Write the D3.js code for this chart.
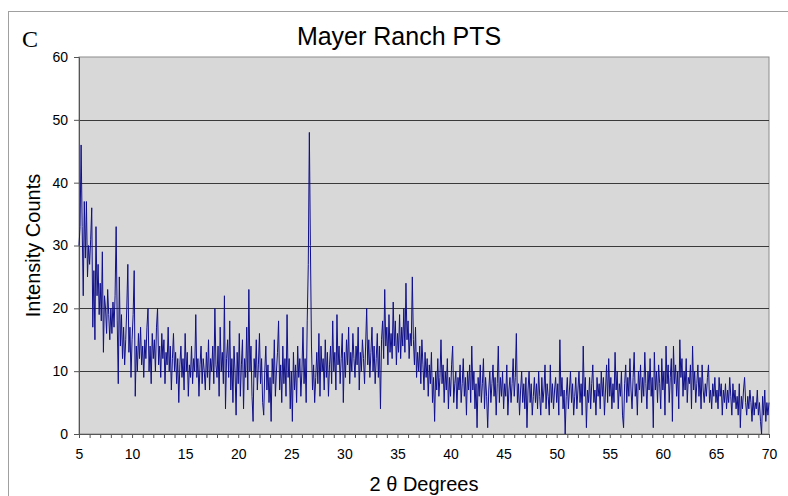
<!DOCTYPE html>
<html>
<head>
<meta charset="utf-8">
<script src="https://cdn.jsdelivr.net/npm/d3@7"></script>
<style>
  body { margin: 0; background: #fff; }
  svg text { font-family: Arial, "Liberation Sans", sans-serif; }
</style>
</head>
<body>
<svg id="chart" width="788" height="496"></svg>
<script>
// intensity counts, step 0.1 deg, one row per degree
const seg05 = [30,33,46,33,22,37,28,37,25,30, 27,31,36,17,26,15,33,22,27,19, 24,18,29,13,22,20,16,23,19,15, 20,16,21,17,22,33,18,8,25,14, 19,12,17,11,15,20,27,13,17,9];
const seg10 = [15,19,26,6,14,10,16,12,17,11, 14,9,15,12,17,20,10,14,8,16, 12,15,10,17,20,11,14,9,16,12, 15,8,13,11,17,10,14,7,12,16, 10,13,8,12,5,11,14,9,12,7];
const seg15 = [16,10,13,6,11,9,14,8,12,10, 19,9,12,6,11,14,8,12,10,7, 13,9,15,7,12,10,14,8,20,11, 9,14,6,17,10,13,8,22,4,12, 15,9,18,7,12,5,14,10,3,13];
const seg20 = [8,16,6,11,15,4,12,9,17,7, 23,10,14,6,2,12,9,15,7,11, 16,8,12,5,3,10,14,7,11,5, 9,2,12,8,15,6,10,13,18,7, 11,5,14,8,12,6,19,9,12,4];
const seg25 = [10,2,13,7,11,5,14,9,12,6, 10,17,8,12,5,18,27,48,30,14, 7,11,5,9,13,8,16,6,14,10, 12,7,15,9,13,6,11,14,8,18, 10,13,7,19,11,14,8,12,16,5];
const seg30 = [13,9,15,11,17,8,13,10,16,12, 9,14,11,17,7,13,10,15,12,8, 14,20,11,15,9,13,17,10,14,8, 12,16,9,14,4,15,18,12,23,14, 17,11,19,13,16,12,21,14,18,11];
const seg35 = [16,13,19,12,17,14,20,13,24,15, 18,12,16,14,25,15,11,17,9,13, 10,14,8,15,11,7,13,9,12,6, 11,8,13,5,9,2,10,7,12,6, 9,15,8,11,5,10,7,12,4,9];
const seg40 = [6,11,14,5,8,10,4,9,7,11, 5,8,12,6,9,3,10,7,11,5, 14,7,10,4,8,1,9,6,11,5, 8,12,4,9,6,1,7,10,5,8, 11,6,9,3,8,14,5,9,6,10];
const seg45 = [4,8,6,11,3,7,9,5,8,12, 6,9,16,5,8,3,7,10,5,8, 4,9,1,7,10,5,8,3,6,9, 5,8,4,10,6,3,9,5,7,11, 4,8,6,3,11,5,8,4,7,9];
const seg50 = [5,8,3,15,6,9,4,7,0,6, 9,4,7,10,5,8,3,6,9,4, 7,10,5,8,3,14,6,9,1,7, 5,9,4,8,11,5,7,3,9,6, 8,4,10,6,9,3,7,11,5,12];
const seg55 = [6,9,4,8,5,13,7,10,4,8, 6,10,3,1,8,11,5,9,6,12, 7,4,9,13,6,8,3,10,7,11, 5,9,6,13,8,4,10,7,12,6, 9,1,13,7,10,5,11,8,4,12];
const seg60 = [7,10,3,14,8,11,5,9,12,2, 14,8,11,6,10,4,15,9,12,6, 10,7,12,5,9,8,11,4,14,7, 10,5,8,11,6,9,4,11,7,5, 8,6,9,11,5,7,4,8,6,9];
const seg65 = [5,7,4,9,6,8,3,7,5,8, 4,7,5,9,6,3,8,5,7,4, 6,3,8,1,6,4,7,9,5,3, 6,4,7,5,2,6,3,5,4,7, 3,5,2,0,6,3,7,2,5,3, 5];

const startAngle = 5, stepAngle = 0.1;
const yTicks = [0, 10, 20, 30, 40, 50, 60];
const xTicks = d3.range(5, 71, 1);
const xLabels = [5, 10, 15, 20, 25, 30, 35, 40, 45, 50, 55, 60, 65, 70];

const counts = [].concat(seg05, seg10, seg15, seg20, seg25, seg30, seg35, seg40, seg45, seg50, seg55, seg60, seg65);
const data = counts.map((c, i) => ({ angle: startAngle + i * stepAngle, count: c }));

const svg = d3.select('#chart');
const margin = { left: 79, top: 57, right: 19, bottom: 62 },
  width = 788, height = 496;

// outer frame
svg.append('rect')
  .attr('x', 8.5).attr('y', 11.5)
  .attr('width', 800).attr('height', 500)
  .attr('fill', '#fff').attr('stroke', '#a0a0a0');

const x = d3.scaleLinear().domain([5, 70]).range([margin.left, width - margin.right]);
const y = d3.scaleLinear().domain([0, 60]).range([height - margin.bottom, margin.top]);

// plot area
svg.append('rect')
  .attr('x', x(5)).attr('y', y(60))
  .attr('width', x(70) - x(5)).attr('height', y(0) - y(60))
  .attr('fill', '#d8d8d8').attr('stroke', '#8c8c8c');

// gridlines
svg.append('g')
  .selectAll('line')
  .data(yTicks.filter(d => d > 0 && d < 60))
  .enter().append('line')
    .attr('x1', x(5)).attr('x2', x(70))
    .attr('y1', d => Math.round(y(d)) + 0.5).attr('y2', d => Math.round(y(d)) + 0.5)
    .attr('stroke', '#3a3a3a');

// y axis
const yAxis = svg.append('g')
  .attr('transform', `translate(${x(5)},0)`)
  .call(d3.axisLeft(y).tickValues(yTicks).tickSize(5).tickPadding(6));
yAxis.selectAll('text').attr('font-size', 14).attr('fill', '#000');
yAxis.selectAll('line, path').attr('stroke', '#555');

// x axis
const xAxis = svg.append('g')
  .attr('transform', `translate(0,${y(0)})`)
  .call(d3.axisBottom(x).tickValues(xTicks).tickSize(4).tickPadding(11)
    .tickFormat(d => xLabels.includes(d) ? d : ''));
xAxis.selectAll('text').attr('font-size', 14).attr('fill', '#000');
xAxis.selectAll('line, path').attr('stroke', '#555');

// trace
const line = d3.line()
  .x(d => x(d.angle))
  .y(d => y(d.count));

svg.append('path')
  .datum(data)
  .attr('d', line)
  .attr('fill', 'none')
  .attr('stroke', '#10108a')
  .attr('stroke-width', 1)
  .attr('stroke-linejoin', 'miter');

// titles
svg.append('text')
  .attr('x', 399).attr('y', 45)
  .attr('text-anchor', 'middle')
  .attr('font-size', 25)
  .text('Mayer Ranch PTS');

svg.append('text')
  .attr('x', 22).attr('y', 47)
  .style('font-family', '"Liberation Serif", "Times New Roman", serif')
  .attr('font-size', 24)
  .text('C');

svg.append('text')
  .attr('transform', `translate(40,${(y(0) + y(60)) / 2}) rotate(-90)`)
  .attr('text-anchor', 'middle')
  .attr('font-size', 20)
  .text('Intensity Counts');

svg.append('text')
  .attr('x', (x(5) + x(70)) / 2).attr('y', 491)
  .attr('text-anchor', 'middle')
  .attr('font-size', 20)
  .text('2 θ Degrees');
</script>
</body>
</html>
